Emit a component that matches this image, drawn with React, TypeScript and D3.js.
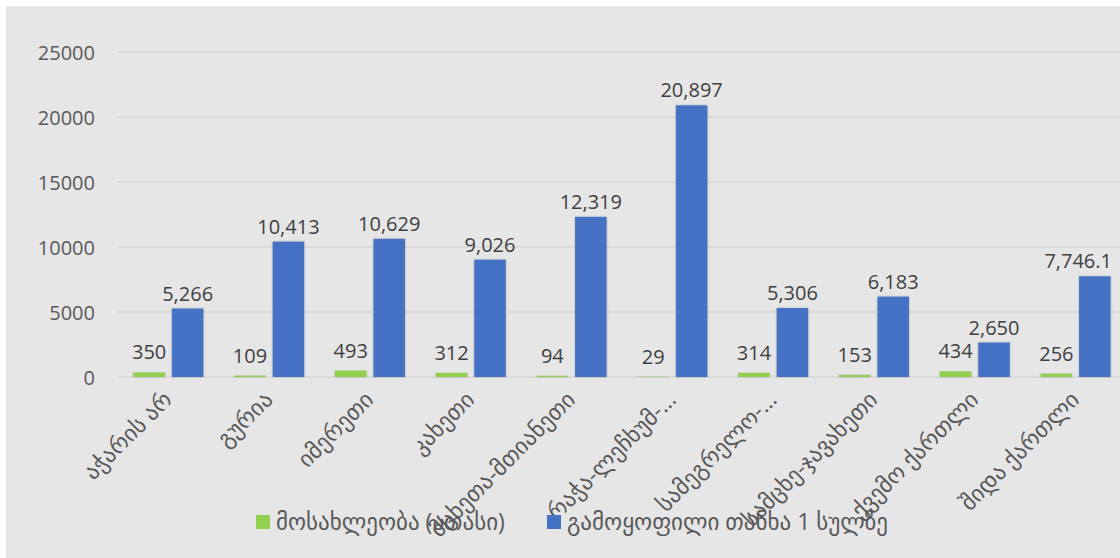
import React from "react";
import * as d3 from "d3";

const WIDTH = 1120;
const HEIGHT = 558;
const MARGIN = { top: 52, right: -6, bottom: 181, left: 118 };

const categories = [
  "აჭარის არ",
  "გურია",
  "იმერეთი",
  "კახეთი",
  "მცხეთა-მთიანეთი",
  "რაჭა-ლეჩხუმ-…",
  "სამეგრელო-…",
  "სამცხე-ჯავახეთი",
  "ქვემო ქართლი",
  "შიდა ქართლი",
];
const population = [350, 109, 493, 312, 94, 29, 314, 153, 434, 256];
const perCapita = [5266, 10413, 10629, 9026, 12319, 20897, 5306, 6183, 2650, 7746.1];
const populationLabels = ["350", "109", "493", "312", "94", "29", "314", "153", "434", "256"];
const perCapitaLabels = ["5,266", "10,413", "10,629", "9,026", "12,319", "20,897", "5,306", "6,183", "2,650", "7,746.1"];
const yTicks = [0, 5000, 10000, 15000, 20000, 25000];
const seriesNames = ["მოსახლეობა (ათასი)", "გამოყოფილი თანხა 1 სულზე"];

const GREEN = "#92d050";
const BLUE = "#4472c4";
const TEXT = "#595959";
const FONT = "'Open Sans', 'DejaVu Sans', sans-serif";

export const App = () => {
  const innerW = WIDTH - MARGIN.left - MARGIN.right;
  const innerH = HEIGHT - MARGIN.top - MARGIN.bottom;

  const xScale = d3.scaleBand().domain(categories).range([0, innerW]);
  const inner = d3
    .scaleBand()
    .domain(["0", "1"])
    .range([xScale.bandwidth() / 2 - 35, xScale.bandwidth() / 2 + 35])
    .paddingInner(0.18);
  const yScale = d3.scaleLinear().domain([0, 25000]).range([innerH, 0]);

  const series = [
    { values: population, labels: populationLabels, color: GREEN, gap: 13 },
    { values: perCapita, labels: perCapitaLabels, color: BLUE, gap: 8 },
  ];

  return (
    <svg
      width={WIDTH}
      height={HEIGHT}
      style={{ position: "absolute", left: 0, top: 0 }}
      fontFamily={FONT}
    >
      <defs>
        <filter id="glow" x="-20%" y="-5%" width="140%" height="110%">
          <feGaussianBlur in="SourceAlpha" stdDeviation="1.2" />
          <feComponentTransfer>
            <feFuncA type="linear" slope="0.25" />
          </feComponentTransfer>
          <feMerge>
            <feMergeNode />
            <feMergeNode in="SourceGraphic" />
          </feMerge>
        </filter>
      </defs>
      <rect width={WIDTH} height={HEIGHT} fill="#ffffff" />
      <rect x={6} y={6} width={WIDTH - 6} height={HEIGHT - 6} fill="#e6e6e6" />
      <g transform={`translate(${MARGIN.left},${MARGIN.top})`}>
        {yTicks.map((t) => (
          <g key={t}>
            <line x1={0} x2={innerW} y1={yScale(t)} y2={yScale(t)} stroke="#d6d6d6" strokeWidth={1.5} />
            <text
              x={-23}
              y={yScale(t)}
              textAnchor="end"
              dominantBaseline="central"
              fontSize={20}
              fill={TEXT}
            >
              {t}
            </text>
          </g>
        ))}
        {categories.map((c, i) => (
          <g key={c} transform={`translate(${xScale(c)},0)`}>
            {series.map((s, j) => {
              const x = inner(String(j)) ?? 0;
              const y = yScale(s.values[i]);
              const cx = x + inner.bandwidth() / 2;
              // keep labels inside the chart's right edge
              const maxEnd = WIDTH - 8 - MARGIN.left - (xScale(c) ?? 0);
              const tooFar = cx + 36 > maxEnd;
              return (
                <g key={j}>
                  <rect
                    x={x}
                    y={y}
                    width={inner.bandwidth()}
                    height={innerH - y}
                    fill={s.color}
                    filter="url(#glow)"
                  />
                  <text
                    x={tooFar ? maxEnd : cx}
                    y={y - s.gap}
                    textAnchor={tooFar ? "end" : "middle"}
                    fontSize={20}
                    fill="#404040"
                  >
                    {s.labels[i]}
                  </text>
                </g>
              );
            })}
            <text
              transform={`translate(${xScale.bandwidth() / 2 + 5},${innerH + 24}) rotate(-45)`}
              textAnchor="end"
              fontSize={23}
              fill={TEXT}
            >
              {c}
            </text>
          </g>
        ))}
      </g>
      <g transform="translate(256,515)">
        <rect x={0} y={0} width={14} height={14} fill={GREEN} />
        <text x={20} y={15} fontSize={23} fill={TEXT}>
          {seriesNames[0]}
        </text>
        <rect x={291} y={0} width={14} height={14} fill={BLUE} />
        <text x={311} y={15} fontSize={23} fill={TEXT}>
          {seriesNames[1]}
        </text>
      </g>
    </svg>
  );
};

export default App;
